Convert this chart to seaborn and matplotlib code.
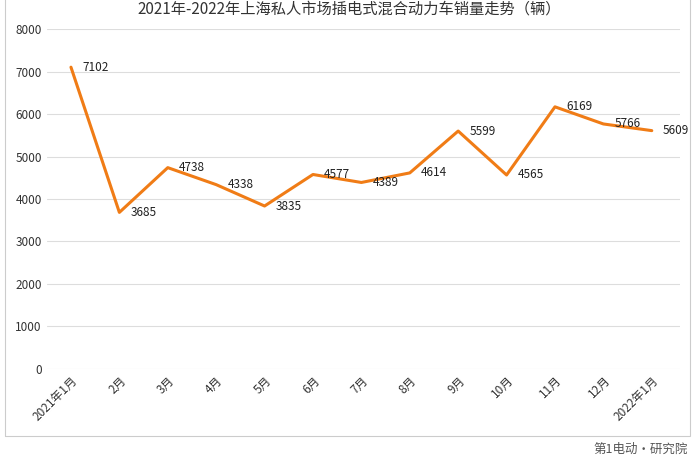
import matplotlib.pyplot as plt
import seaborn as sns
import pandas as pd
from matplotlib.patches import Rectangle

months = ["2021年1月", "2月", "3月", "4月", "5月", "6月", "7月", "8月", "9月",
          "10月", "11月", "12月", "2022年1月"]
sales = [7102, 3685, 4738, 4338, 3835, 4577, 4389, 4614, 5599, 4565, 6169, 5766, 5609]

sns.set_style("white")
plt.rcParams['font.family'] = ['Noto Sans CJK SC', 'DejaVu Sans']

df = pd.DataFrame({"month": months, "sales": sales})
fig = plt.figure(figsize=(6.98, 4.57), dpi=100)
ax = fig.add_axes([0.067, 0.1926, 0.907, 0.7439])
sns.lineplot(data=df, x="month", y="sales", sort=False, color="#F07C16", linewidth=2.2, ax=ax)

for i, v in enumerate(sales):
    ax.annotate(str(v), (i, v), xytext=(8, 0), textcoords="offset points",
                va="center", ha="left", fontsize=8.5, color="#222222")

ax.set_ylim(0, 8000)
ax.set_xlim(-0.5, len(months) - 0.42)
ax.set_yticks(range(0, 8001, 1000))
ax.yaxis.grid(True, color="#dddddd", linewidth=0.8)
ax.set_xlabel("")
ax.set_ylabel("")
for s in ax.spines.values():
    s.set_visible(False)
ax.tick_params(axis="both", length=0, labelsize=8.5, colors="#333333")
plt.setp(ax.get_xticklabels(), rotation=45, ha="right", rotation_mode="anchor")

fig.text(0.5, 0.998, "2021年-2022年上海私人市场插电式混合动力车销量走势（辆）",
         ha="center", va="top", fontsize=11, color="#333333")
fig.patches.append(Rectangle((0.007, 0.045), 0.982, 0.96, transform=fig.transFigure,
                             fill=False, edgecolor="#cccccc", linewidth=0.8))
fig.text(0.985, 0.003, "第1电动·研究院", ha="right", va="bottom", fontsize=9, color="#555555")

fig.savefig("out.png", dpi=100)
